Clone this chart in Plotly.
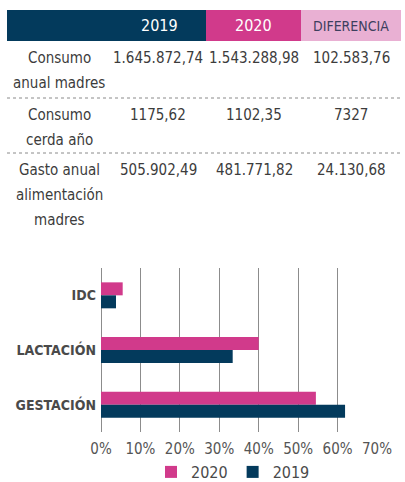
import plotly.graph_objects as go

# ---------------- data ----------------
header_labels = ["", "2019", "2020", "DIFERENCIA"]
row_labels = [["Consumo", "anual madres"], ["Consumo", "cerda año"],
              ["Gasto anual", "alimentación", "madres"]]
vals_2019 = ["1.645.872,74", "1175,62", "505.902,49"]
vals_2020 = ["1.543.288,98", "1102,35", "481.771,82"]
vals_diff = ["102.583,76", "7327", "24.130,68"]

categories = ["IDC", "LACTACIÓN", "GESTACIÓN"]
pct_2020 = [5.5, 40.0, 54.5]
pct_2019 = [3.8, 33.4, 61.9]
x_ticks = [0, 10, 20, 30, 40, 50, 60, 70]
x_tick_labels = ["0%", "10%", "20%", "30%", "40%", "50%", "60%", "70%"]

# ---------------- style ----------------
W, H = 405, 482
L, R, T, B = 101, 377, 268, 432
NAVY = "#033a5c"
PINK = "#d13a8b"
LPINK = "#e9b0d3"
TXT = "#3c3c3c"
FONT = "DejaVu Sans Condensed, Liberation Sans Narrow, sans-serif"


def fx(x):
    return (x - L) / (R - L)


def fy(y):
    return (B - y) / (B - T)


fig = go.Figure()
fig.add_trace(go.Bar(name="2020", y=categories, x=pct_2020, orientation="h",
                     marker=dict(color=PINK, line=dict(width=0))))
fig.add_trace(go.Bar(name="2019", y=categories, x=pct_2019, orientation="h",
                     marker=dict(color=NAVY, line=dict(width=0))))

shapes = []
annotations = []

# table header
col_edges = [7, 112, 206, 301, 401]
head_top, head_bot = 10, 41
head_fills = [NAVY, NAVY, PINK, LPINK]
head_text_col = ["white", "white", "white", "#3d3f5e"]
for i in range(4):
    shapes.append(dict(type="rect", xref="paper", yref="paper",
                       x0=fx(col_edges[i]), x1=fx(col_edges[i + 1]),
                       y0=fy(head_bot), y1=fy(head_top),
                       fillcolor=head_fills[i], line=dict(width=0), layer="below"))
    if header_labels[i]:
        annotations.append(dict(text=header_labels[i], xref="paper", yref="paper",
                                x=fx((col_edges[i] + col_edges[i + 1]) / 2),
                                y=fy((head_top + head_bot) / 2),
                                showarrow=False, xanchor="center", yanchor="middle",
                                font=dict(family=FONT, size=16 if i < 3 else 14,
                                          color=head_text_col[i])))

row_y = [58, 115, 170]
line_h = 25
col_centers = [59, 158, 254, 351]
for r in range(3):
    for k, line in enumerate(row_labels[r]):
        annotations.append(dict(text=line, xref="paper", yref="paper",
                                x=fx(col_centers[0]), y=fy(row_y[r] + k * line_h),
                                showarrow=False, xanchor="center", yanchor="middle",
                                font=dict(family=FONT, size=15, color=TXT)))
    for c, vals in enumerate([vals_2019, vals_2020, vals_diff]):
        annotations.append(dict(text=vals[r], xref="paper", yref="paper",
                                x=fx(col_centers[c + 1]), y=fy(row_y[r]),
                                showarrow=False, xanchor="center", yanchor="middle",
                                font=dict(family=FONT, size=15, color=TXT)))

for yd in [98, 153]:
    shapes.append(dict(type="line", xref="paper", yref="paper",
                       x0=fx(7), x1=fx(401), y0=fy(yd), y1=fy(yd),
                       line=dict(color="#8a8a8a", width=1, dash="dot")))

fig.update_layout(
    width=W, height=H,
    margin=dict(l=L, r=W - R, t=T, b=H - B, autoexpand=False),
    paper_bgcolor="white", plot_bgcolor="white",
    barmode="group", bargap=0.525, bargroupgap=0,
    shapes=shapes, annotations=annotations,
    showlegend=True,
    legend=dict(orientation="h", xref="container", yref="container",
                x=233 / W, xanchor="center",
                y=1 - 472 / H, yanchor="middle",
                font=dict(family=FONT, size=16, color="#4a4a4a"),
                itemwidth=30, traceorder="normal"),
    xaxis=dict(range=[0, 70], tickmode="array", tickvals=x_ticks, ticktext=x_tick_labels,
               showgrid=True, gridcolor="#8c8c8c", gridwidth=1,
               zeroline=True, zerolinecolor="#8c8c8c", zerolinewidth=1,
               showline=False, ticks="", fixedrange=True, automargin=False,
               ticklabelstandoff=6,
               tickfont=dict(family=FONT, size=15, color="#555555")),
    yaxis=dict(autorange="reversed", showgrid=False, zeroline=False,
               showline=False, ticks="", ticklabelstandoff=4, automargin=False,
               tickfont=dict(family=FONT, size=14, color="#4a4a4a", weight="bold")),
)

fig.write_html("out.html")
